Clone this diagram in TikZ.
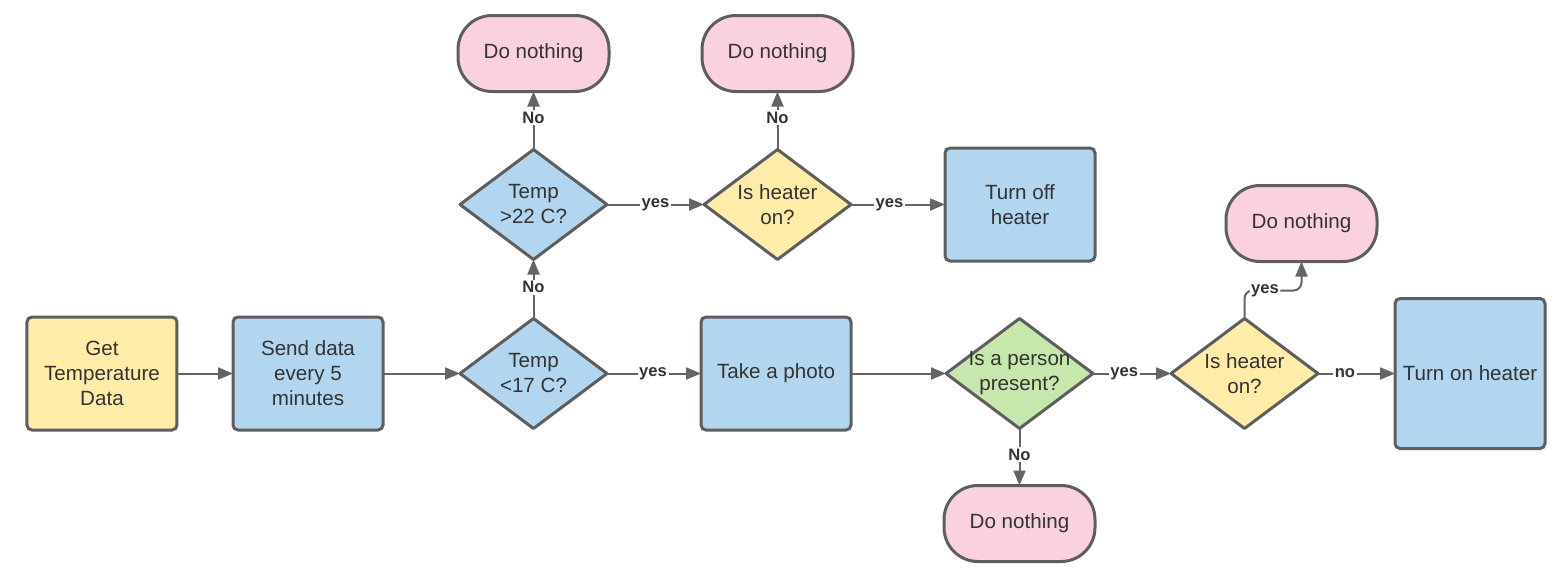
\documentclass[tikz,border=0pt]{standalone}
\usepackage{fontspec}
\setmainfont{Liberation Sans}
\usetikzlibrary{arrows.meta,positioning,shapes.geometric}
\definecolor{boxyellow}{RGB}{255,236,168}
\definecolor{boxblue}{RGB}{178,214,239}
\definecolor{boxpink}{RGB}{249,210,222}
\definecolor{boxgreen}{RGB}{199,232,172}
\definecolor{edgegray}{RGB}{94,94,94}
\definecolor{arrowgray}{RGB}{100,100,100}
\definecolor{textgray}{RGB}{51,51,51}
\newcommand{\nodetextfont}{\fontsize{10.3}{12.5}\selectfont}
\newcommand{\answerfont}{\fontsize{8.3}{10}\selectfont\bfseries}
\tikzset{
  block/.style={
    rectangle,
    rounded corners=2.5pt,
    draw=edgegray,
    line width=1.5pt,
    fill=boxblue,
    text=textgray,
    align=center,
    inner sep=0pt,
    outer sep=0pt,
    minimum width=75pt,
    minimum height=56.5pt,
    font=\nodetextfont
  },
  startblock/.style={
    block,
    fill=boxyellow
  },
  squareblock/.style={
    block,
    minimum height=75pt
  },
  decision/.style={
    diamond,
    draw=edgegray,
    line width=1.5pt,
    line join=round,
    fill=boxblue,
    text=textgray,
    align=center,
    inner sep=-6pt,
    outer sep=0pt,
    minimum width=73.5pt,
    minimum height=55pt,
    font=\nodetextfont
  },
  terminal/.style={
    rectangle,
    rounded corners=17pt,
    draw=edgegray,
    line width=1.5pt,
    fill=boxpink,
    text=textgray,
    align=center,
    inner sep=0pt,
    outer sep=0pt,
    minimum width=75.5pt,
    minimum height=38pt,
    font=\nodetextfont
  },
  arrow/.style={
    -{Triangle[length=7.5pt,width=6pt]},
    line width=1pt,
    draw=arrowgray
  },
  answer/.style={
    fill=white,
    inner sep=0.8pt,
    text=textgray,
    font=\answerfont
  }
}
\begin{document}
\begin{tikzpicture}
  \node[startblock] (getdata) {Get\\Temperature\\Data};
  \useasboundingbox (getdata.center) ++(-51pt,186.75pt) rectangle ++(782pt,-290pt);

  \node[block, right=28pt of getdata] (senddata) {Send data\\every 5\\minutes};
  \node[decision, right=38.5pt of senddata] (tempcold) {Temp\\<17 C?};
  \node[decision, above=29.5pt of tempcold] (temphot) {Temp\\>22 C?};
  \node[terminal, above=29pt of temphot] (idlehot) {Do nothing};
  \node[decision, fill=boxyellow, right=48.5pt of temphot] (heaterhot) {Is heater\\on?};
  \node[terminal, above=29pt of heaterhot] (idleoff) {Do nothing};
  \node[block, right=47pt of heaterhot] (turnoff) {Turn off\\heater};

  \node[block, right=47pt of tempcold] (photo) {Take a photo};
  \node[decision, fill=boxgreen, right=47.5pt of photo] (person) {Is a person\\present?};
  \node[terminal, below=28.5pt of person] (idleempty) {Do nothing};
  \node[decision, fill=boxyellow, right=39pt of person] (heatercold) {Is heater\\on?};
  \node[terminal, above=28.5pt of heatercold, xshift=28.5pt] (idleon) {Do nothing};
  \node[squareblock, right=38.5pt of heatercold] (turnon) {Turn on heater};

  \draw[arrow] (getdata) -- (senddata);
  \draw[arrow] (senddata) -- (tempcold);
  \draw[arrow] (tempcold) -- node[answer, pos=0.49] {yes} (photo);
  \draw[arrow] (tempcold) -- node[answer, pos=0.53] {No} (temphot);
  \draw[arrow] (temphot) -- node[answer, pos=0.55] {No} (idlehot);
  \draw[arrow] (temphot) -- node[answer, pos=0.5] {yes} (heaterhot);
  \draw[arrow] (heaterhot) -- node[answer, pos=0.55] {No} (idleoff);
  \draw[arrow] (heaterhot) -- node[answer, pos=0.41] {yes} (turnoff);
  \draw[arrow] (photo) -- (person);
  \draw[arrow] (person) -- node[answer, pos=0.46] {No} (idleempty);
  \draw[arrow] (person) -- node[answer, pos=0.4] {yes} (heatercold);
  \draw[arrow, rounded corners=4pt] (heatercold.north) -- ++(0,14pt) -| node[answer, pos=0.18] {yes} (idleon.south);
  \draw[arrow] (heatercold) -- node[answer, pos=0.35] {no} (turnon);
\end{tikzpicture}
\end{document}
